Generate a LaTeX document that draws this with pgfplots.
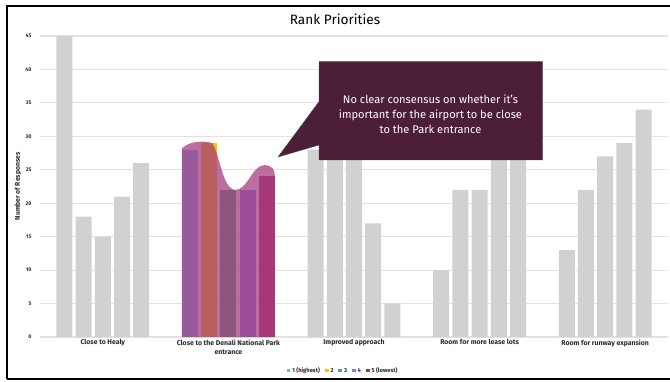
\documentclass[border=0pt]{standalone}
\usepackage{pgfplots}
\pgfplotsset{compat=1.18}
\usepackage{fontspec}
\setmainfont{Fira Sans}
\definecolor{barg}{HTML}{D1D1D1}
\definecolor{gridc}{HTML}{E2E2E2}
\definecolor{cA}{HTML}{6FB3E2}
\definecolor{cB}{HTML}{F5C400}
\definecolor{cC}{HTML}{55A074}
\definecolor{cD}{HTML}{7C7CE6}
\definecolor{cE}{HTML}{A8325E}
\definecolor{ovl}{RGB}{165,60,130}
\definecolor{plum}{HTML}{4D1E38}
\definecolor{txt}{HTML}{2A2A2A}
\begin{document}
\begin{tikzpicture}[x=1pt,y=1pt]
\path[use as bounding box] (0,0) rectangle (670,381);
\begin{axis}[
  at={(40pt,44pt)}, anchor=south west,
  scale only axis, width=628pt, height=301pt,
  xmin=-0.5, xmax=4.5, ymin=0, ymax=45,
  ytick={0,5,...,45},
  xtick={0,1,2,3,4},
  xticklabels={Close to Healy,{Close to the Denali National Park\\entrance},Improved approach,Room for more lease lots,Room for runway expansion},
  axis line style={draw=none},
  major tick style={draw=none},
  ymajorgrids,
  grid style={gridc, line width=1.1pt},
  /pgf/number format/assume math mode=true,
  yticklabel style={font=\bfseries\fontsize{5.3}{6}\selectfont, text=txt, xshift=-5pt},
  xticklabel style={font=\bfseries\fontsize{6.9}{9}\selectfont, text=txt, align=center, yshift=1pt},
  ylabel={Number of Responses},
  every axis y label/.style={at={(axis description cs:-0.035,0.5)}, rotate=90, anchor=center, font=\bfseries\fontsize{6.8}{7}\selectfont, text=txt},
  legend style={draw=none, fill=none, font=\bfseries\fontsize{5.8}{6}\selectfont, text=txt,
    at={(axis description cs:0.4825,-0.113)}, anchor=center,
    /tikz/every even column/.append style={column sep=2.8pt}},
  legend columns=5,
  legend image code/.code={\fill[#1,draw=none] (0pt,-1.4pt) rectangle (3.8pt,2.4pt);},
  clip=false,
]
% grey series (groups other than Denali)
\addplot[ybar, fill=barg, draw=none, bar width=0.1275, bar shift=-0.306, forget plot] coordinates {(0,45) (2,28) (3,10) (4,13)};
\addplot[ybar, fill=barg, draw=none, bar width=0.1275, bar shift=-0.153, forget plot] coordinates {(0,18) (2,30) (3,22) (4,22)};
\addplot[ybar, fill=barg, draw=none, bar width=0.1275, bar shift=0, forget plot] coordinates {(0,15) (2,29) (3,22) (4,27)};
\addplot[ybar, fill=barg, draw=none, bar width=0.1275, bar shift=0.153, forget plot] coordinates {(0,21) (2,17) (3,29) (4,29)};
\addplot[ybar, fill=barg, draw=none, bar width=0.1275, bar shift=0.306, forget plot] coordinates {(0,26) (2,5) (3,28) (4,34)};
% highlighted group in series colours
\addplot[ybar, fill=cA, draw=none, bar width=0.1275, bar shift=-0.306] coordinates {(1,28)};
\addplot[ybar, fill=cB, draw=none, bar width=0.1275, bar shift=-0.153] coordinates {(1,29)};
\addplot[ybar, fill=cC, draw=none, bar width=0.1275, bar shift=0] coordinates {(1,22)};
\addplot[ybar, fill=cD, draw=none, bar width=0.1275, bar shift=0.153] coordinates {(1,22)};
\addplot[ybar, fill=cE, draw=none, bar width=0.1275, bar shift=0.306] coordinates {(1,24)};
\legend{1 (highest),2,3,4,5 (lowest)}
% translucent highlight shape
\fill[ovl, opacity=0.74] (axis cs:0.63,0) -- (axis cs:0.63,28.2)
  .. controls (axis cs:0.69,29.3) and (axis cs:0.80,29.4) .. (axis cs:0.87,29.0)
  .. controls (axis cs:0.93,27.5) and (axis cs:0.95,22.3) .. (axis cs:1.05,22.0)
  .. controls (axis cs:1.15,21.8) and (axis cs:1.19,25.8) .. (axis cs:1.29,25.7)
  .. controls (axis cs:1.35,25.6) and (axis cs:1.37,25) .. (axis cs:1.37,24)
  -- (axis cs:1.37,0) -- cycle;
\end{axis}
% callout
\fill[plum, draw=black!70, line width=0.4pt] (319,221) -- (319,236) -- (278,224) -- (319,279.3) -- (319,319.3) -- (542.5,319.3) -- (542.5,221) -- cycle;
\node[text=white, align=center, font=\fontsize{11.1}{15}\selectfont] at (430.5,267) {No clear consensus on whether it's\\important for the airport to be close\\to the Park entrance};
% title
\node[font=\fontsize{13.6}{15}\selectfont, text=black] at (335,362) {Rank Priorities};
% frame
\draw[line width=2.6pt] (7,2) -- (7,375) -- (680,375);
\draw[line width=2.6pt] (7,2) -- (680,2);
\end{tikzpicture}
\end{document}
